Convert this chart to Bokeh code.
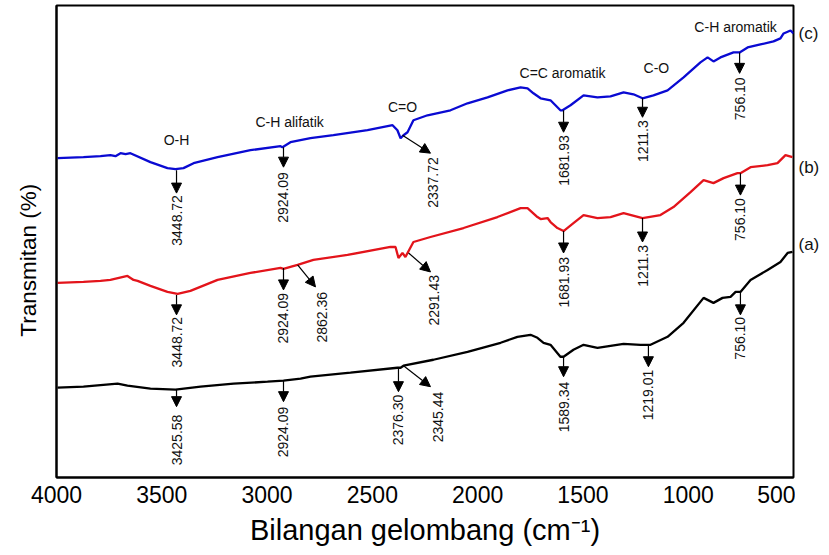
import math
from bokeh.plotting import figure
from bokeh.layouts import row
from bokeh.models import Range1d, ColumnDataSource, Arrow, NormalHead, FixedTicker
from bokeh.core.properties import value
from bokeh.embed import file_html
from bokeh.resources import INLINE

# ---------------- data (wavenumber cm-1, relative transmittance offset) ----------------
x_ticks = [4000, 3500, 3000, 2500, 2000, 1500, 1000, 500]

# (c) blue
c_wn = [3995, 3872, 3791, 3744, 3720, 3696, 3672, 3649, 3554, 3473, 3435, 3397, 3349, 3235, 3079,
        2936, 2927, 2889, 2794, 2685, 2523, 2404, 2381, 2366, 2352, 2333, 2305, 2238, 2129,
        2048, 1953, 1858, 1796, 1763, 1735, 1701, 1654, 1607, 1597, 1559, 1497, 1431, 1369,
        1307, 1260, 1217, 1165, 1098, 1022, 942, 908, 880, 847, 785, 756, 718, 657,
        595, 562, 547, 514, 500]
c_t = [320, 321, 322, 323, 322, 325, 324, 325, 316, 310, 309, 310, 315, 321, 328,
       332, 331, 336, 340, 343, 348, 353, 348, 340, 343, 346, 358, 363, 368,
       375, 381, 388, 391, 390, 385, 380, 378, 368, 368, 373, 383, 381, 382,
       386, 384, 380, 383, 388, 401, 416, 421, 417, 421, 426, 426, 431, 434,
       437, 440, 445, 448, 445]

# (b) red
b_wn = [3995, 3872, 3791, 3744, 3663, 3634, 3615, 3554, 3473, 3425, 3364, 3235, 3079, 2936,
        2922, 2889, 2855, 2780, 2618, 2414, 2390, 2376, 2357, 2343, 2305, 2224, 2067, 1906,
        1796, 1763, 1716, 1701, 1668, 1654, 1621, 1592, 1545, 1497, 1431, 1369, 1307, 1217,
        1132, 1070, 989, 927, 880, 832, 766, 752, 704, 623, 576, 538, 505]
b_t = [195, 196, 197, 198, 202, 198, 197, 192, 186, 184, 187, 198, 205, 210,
       209, 211, 213, 218, 223, 231, 231, 220, 225, 221, 236, 241, 250, 261,
       270, 270, 261, 259, 260, 256, 250, 247, 255, 263, 260, 261, 265, 260,
       263, 271, 286, 298, 295, 300, 305, 305, 311, 313, 315, 323, 321]

# (a) black
a_wn = [3995, 3872, 3710, 3663, 3554, 3435, 3316, 3159, 2998, 2922, 2841, 2794, 2604, 2381,
        2366, 2352, 2210, 2048, 1891, 1811, 1749, 1716, 1687, 1654, 1607, 1592, 1545, 1497,
        1431, 1369, 1307, 1227, 1179, 1098, 1022, 927, 880, 837, 799, 775, 752, 704,
        623, 562, 528, 505]
a_t = [90, 91, 94, 92, 89, 88, 91, 94, 96, 97, 99, 101, 105, 110,
       110, 112, 118, 126, 135, 141, 143, 140, 135, 133, 121, 121, 128, 133,
       130, 132, 134, 133, 133, 141, 155, 180, 175, 180, 181, 186, 186, 198,
       208, 216, 225, 226]

# peak arrows: start on curve -> tip
arrow_x0 = [3430, 2922, 2357, 1592, 1217, 756,
            3430, 2922, 2855, 2328, 1592, 1217, 752,
            3430, 2922, 2376, 2352, 1592, 1189, 752]
arrow_y0 = [308, 331, 343, 368, 380, 426,
            183, 210, 213, 225, 247, 260, 305,
            88, 97, 110, 112, 121, 133, 186]
arrow_x1 = [3430, 2922, 2224, 1592, 1217, 756,
            3430, 2922, 2770, 2224, 1592, 1217, 752,
            3430, 2922, 2376, 2224, 1592, 1189, 752]
arrow_y1 = [285, 311, 325, 346, 361, 405,
            163, 188, 191, 206, 225, 236, 283,
            71, 76, 86, 91, 101, 111, 163]

# peak value labels
peak_text = ["3448.72", "2924.09", "2337.72", "1681.93", "1211.3", "756.10",
             "3448.72", "2924.09", "2862.36", "2291.43", "1681.93", "1211.3", "756.10",
             "3425.58", "2924.09", "2376.30", "2345.44", "1589.34", "1219.01", "756.10"]
peak_x = [3430, 2922, 2214, 1592, 1217, 756,
          3430, 2922, 2737, 2205, 1592, 1217, 752,
          3430, 2922, 2376, 2190, 1592, 1189, 752]
peak_y = [283, 306, 321, 343, 358, 401,
          161, 185, 186, 203, 221, 233, 280,
          63, 71, 83, 86, 96, 108, 161]

# functional group labels
group_text = ["O-H", "C-H alifatik", "C=O", "C=C aromatik", "C-O", "C-H aromatik"]
group_x = [3430, 2893, 2357, 1597, 1151, 775]
group_y = [338, 356, 371, 405, 410, 451]

# series tags
tag_text = ["(c)", "(b)", "(a)"]
tag_y = [445, 311, 233]

FONT = "Liberation Sans"
H = 555
TOP = 5
BOTTOM = 78

yr = Range1d(0, 473)
p = figure(width=795, height=H, output_backend="svg", toolbar_location=None,
           x_range=Range1d(4000, 500), y_range=yr,
           min_border_left=56, min_border_right=2, min_border_top=TOP, min_border_bottom=BOTTOM)
p.grid.visible = False
p.background_fill_color = "white"
p.border_fill_color = "white"
p.outline_line_color = "black"
p.outline_line_width = 2
p.outline_line_alpha = 1.0

xa = p.xaxis[0]
xa.ticker = FixedTicker(ticks=x_ticks)
xa.major_tick_line_color = None
xa.minor_tick_line_color = None
xa.major_tick_out = 0
xa.major_tick_in = 0
xa.axis_line_width = 2
xa.major_label_text_font = FONT
xa.major_label_text_font_size = "23px"
xa.major_label_text_color = "black"
xa.major_label_standoff = 8
xa.axis_label = "Bilangan gelombang (cm⁻¹)"
xa.axis_label_text_font = FONT
xa.axis_label_text_font_size = "29px"
xa.axis_label_text_font_style = "normal"
xa.axis_label_text_color = "black"
xa.axis_label_standoff = 8

ya = p.yaxis[0]
ya.ticker = FixedTicker(ticks=[])
ya.major_tick_out = 0
ya.major_tick_in = 0
ya.major_label_standoff = 0
ya.axis_line_width = 2
# trailing no-break spaces push the visible text slightly below the frame centre, as in the original
ya.axis_label = "Transmitan (%)" + "\u00a0" * 6
ya.axis_label_text_font = FONT
ya.axis_label_text_font_size = "22.5px"
ya.axis_label_text_font_style = "normal"
ya.axis_label_text_color = "black"
ya.axis_label_standoff = 16

p.line(a_wn, a_t, line_color="black", line_width=2.3)
p.line(b_wn, b_t, line_color="#e3141b", line_width=2.3)
p.line(c_wn, c_t, line_color="#0a0ad2", line_width=2.3)

asrc = ColumnDataSource(dict(x0=arrow_x0, y0=arrow_y0, x1=arrow_x1, y1=arrow_y1))
p.add_layout(Arrow(end=NormalHead(size=10, fill_color="black", line_color="black", line_width=1),
                   source=asrc, x_start="x0", y_start="y0", x_end="x1", y_end="y1",
                   line_color="black", line_width=1.2))

psrc = ColumnDataSource(dict(x=peak_x, y=peak_y, t=peak_text))
p.text(x="x", y="y", text="t", source=psrc, angle=math.pi / 2,
       text_align="right", text_baseline="middle",
       text_font=value(FONT), text_font_size="14px", text_color="#111111")

gsrc = ColumnDataSource(dict(x=group_x, y=group_y, t=group_text))
p.text(x="x", y="y", text="t", source=gsrc, text_align="center", text_baseline="middle",
       text_font=value(FONT), text_font_size="14px", text_color="#111111")

# narrow side panel for the series tags, sharing the y range
p2 = figure(width=829 - 795, height=H, output_backend="svg", toolbar_location=None,
            x_range=Range1d(0, 34), y_range=yr,
            min_border_left=0, min_border_right=0, min_border_top=TOP, min_border_bottom=BOTTOM)
p2.xaxis.visible = False
p2.yaxis.visible = False
p2.grid.visible = False
p2.outline_line_color = None
p2.background_fill_color = "white"
p2.border_fill_color = "white"
tsrc = ColumnDataSource(dict(x=[3] * len(tag_text), y=tag_y, t=tag_text))
p2.text(x="x", y="y", text="t", source=tsrc, text_align="left", text_baseline="middle",
        text_font=value(FONT), text_font_size="17px", text_color="#111111")

layout = row(p, p2, spacing=0)
open("out.html", "w").write(file_html(layout, INLINE))
